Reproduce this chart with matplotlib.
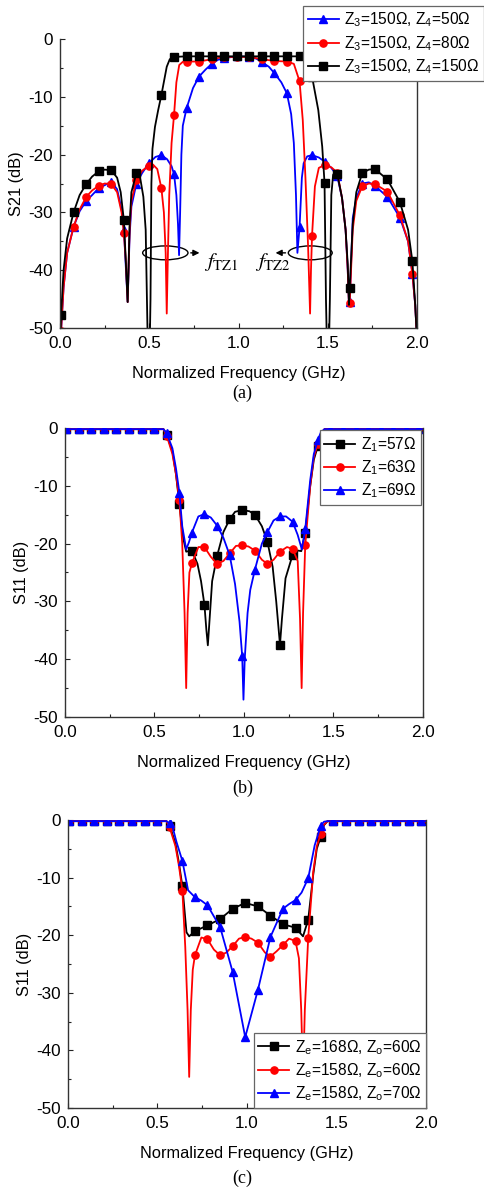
import numpy as np
import matplotlib
matplotlib.use("Agg")
import matplotlib.pyplot as plt
from matplotlib.patches import Ellipse
from matplotlib.ticker import MultipleLocator, FormatStrFormatter

plt.rcParams['font.family'] = ['Liberation Sans', 'DejaVu Sans']
plt.rcParams['mathtext.default'] = 'regular'
plt.rcParams['font.size'] = 11.8
plt.rcParams['axes.unicode_minus'] = False

# frequencies (GHz) where the simulator put its symbols, shared by every curve
mk_f = [0.006, 0.076, 0.147, 0.217, 0.287, 0.358, 0.428, 0.498, 0.568, 0.639,
        0.709, 0.779, 0.850, 0.920, 0.990, 1.061, 1.131, 1.201, 1.271, 1.342,
        1.412, 1.482, 1.553, 1.623, 1.693, 1.764, 1.834, 1.904, 1.974]

# ---- (a) S21, varying Z4 ----
a_labels = ['Z$_3$=150Ω, Z$_4$=50Ω', 'Z$_3$=150Ω, Z$_4$=80Ω', 'Z$_3$=150Ω, Z$_4$=150Ω']

a50_mk = [-50.5, -32.5, -28.0, -25.8, -24.7, -33.0, -25.0, -21.5, -20.1, -23.4,
          -12.0, -6.5, -4.3, -3.3, -3.0, -3.1, -4.0, -5.9, -9.4, -32.6,
          -20.1, -21.2, -23.7, -45.5, -25.0, -25.4, -27.3, -30.9, -40.6]
a50_xf = [0.0, 0.02, 0.04, 0.11, 0.18, 0.25, 0.32, 0.345, 0.368, 0.379,
          0.39, 0.40, 0.46, 0.535, 0.60, 0.625, 0.652, 0.661, 0.667, 0.673,
          0.680, 0.688, 0.745, 0.815, 0.885, 1.10, 1.17, 1.24, 1.295, 1.31,
          1.322, 1.330, 1.355, 1.365, 1.385, 1.45, 1.52, 1.58, 1.600, 1.612,
          1.619, 1.64, 1.66, 1.73, 1.95, 1.99, 2.0]
a50_xd = [-55, -43, -37, -29.8, -27.0, -25.3, -26.0, -29.5, -39, -45.5,
          -34, -29, -23.2, -20.4, -20.8, -22.0, -27, -32, -37.4, -30,
          -20, -15, -8.5, -5.3, -3.6, -3.4, -4.8, -7.5, -13, -18,
          -27, -37, -24, -21.5, -20.3, -20.5, -22.3, -27.5, -33, -40,
          -46, -31, -27.5, -24.8, -35, -46, -52]

a80_mk = [-50.5, -32.5, -27.3, -25.4, -25.1, -33.6, -24.4, -21.9, -25.8, -13.1,
          -3.9, -3.9, -3.5, -3.1, -3.1, -3.1, -3.5, -3.8, -3.9, -7.3,
          -34.0, -21.8, -23.1, -45.6, -25.5, -25.1, -26.4, -30.5, -40.6]
a80_xf = [0.0, 0.02, 0.04, 0.11, 0.18, 0.25, 0.32, 0.345, 0.368, 0.379,
          0.39, 0.40, 0.46, 0.52, 0.545, 0.582, 0.592, 0.598, 0.604, 0.612,
          0.625, 0.652, 0.668, 0.69, 1.31, 1.36, 1.375, 1.39, 1.401, 1.406,
          1.428, 1.45, 1.52, 1.58, 1.600, 1.612, 1.619, 1.64, 1.66, 1.73,
          1.95, 1.99, 2.0]
a80_xd = [-55, -43, -37, -29.5, -26.2, -25.0, -26.5, -30, -38, -45.5,
          -33, -28, -22.8, -21.7, -22.5, -30, -37, -47.5, -38, -27,
          -18, -7.5, -4.5, -3.9, -4.3, -14, -24, -36, -47.5, -40,
          -25.5, -22.3, -22.2, -27.5, -33, -40, -46, -33, -28, -25.0,
          -35, -46, -52]

a150_mk = [-47.8, -30.0, -25.1, -22.9, -22.7, -31.4, -23.2, -62, -9.7, -3.1,
           -3.0, -3.0, -3.0, -3.0, -3.0, -3.0, -3.0, -3.0, -3.0, -3.0,
           -6.5, -24.9, -23.3, -43.0, -23.2, -22.5, -24.3, -28.2, -38.4]
a150_xf = [0.0, 0.02, 0.04, 0.11, 0.18, 0.25, 0.32, 0.34, 0.368, 0.379,
           0.39, 0.40, 0.448, 0.467, 0.480, 0.487, 0.497, 0.507, 0.512, 0.518,
           0.532, 0.55, 0.598, 0.615, 1.38, 1.447, 1.469, 1.490, 1.501, 1.512,
           1.52, 1.53, 1.545, 1.58, 1.600, 1.612, 1.619, 1.64, 1.66, 1.73,
           1.95, 1.99, 2.0]
a150_xd = [-55, -40, -34.5, -27.0, -23.8, -22.6, -24.0, -26.5, -38, -45.5,
           -32, -26.5, -23.8, -27.3, -33, -45, -62, -45, -25, -19,
           -15.2, -12.3, -4.8, -3.5, -3.6, -12.3, -18.6, -45, -62, -45,
           -27, -23.5, -22.8, -27.5, -33, -39, -46, -32, -26.5, -22.6,
           -33, -46, -52]

# ---- (b) S11, varying Z1 ----
b_labels = ['Z$_1$=57Ω', 'Z$_1$=63Ω', 'Z$_1$=69Ω']

b57_mk = [-0.2] * 8 + [-1.2, -13.2, -21.2, -30.6, -22.1, -15.8, -14.2, -15.0, -19.7,
                       -37.5, -22.0, -18.1, -3.2] + [-0.2] * 8
b57_xf = [0.0, 0.55, 0.60, 0.62, 0.66, 0.677, 0.69, 0.74, 0.76, 0.790, 0.798, 0.808,
          0.822, 0.885, 0.95, 1.03, 1.10, 1.16, 1.18, 1.212, 1.232, 1.30, 1.32,
          1.37, 1.39, 1.43, 1.45, 2.0]
b57_xd = [-0.2, -0.2, -4.0, -8.0, -19.0, -21.4, -21.3, -23.5, -26.5, -35.0, -37.6, -33.0,
          -26.5, -18.0, -14.5, -14.4, -17.0, -24.0, -30.0, -33.0, -26.0, -21.2, -21.3,
          -10.0, -5.5, -1.2, -0.2, -0.2]

b63_mk = [-0.2] * 8 + [-1.3, -12.5, -23.4, -20.6, -23.5, -21.7, -20.3, -21.2, -23.5,
                       -21.4, -20.9, -20.3, -2.8] + [-0.2] * 8
b63_xf = [0.0, 0.55, 0.60, 0.62, 0.655, 0.668, 0.677, 0.685, 0.695, 0.745, 0.815, 0.885,
          0.955, 1.025, 1.10, 1.165, 1.24, 1.30, 1.313, 1.322, 1.33, 1.37, 1.39,
          1.43, 1.45, 2.0]
b63_xd = [-0.2, -0.2, -4.5, -8.0, -20.0, -32.0, -45.0, -32.0, -25.0, -20.6, -22.3, -23.0,
          -20.4, -20.5, -22.8, -22.8, -20.6, -23.0, -33.0, -45.0, -32.0, -10.0, -5.0,
          -1.0, -0.2, -0.2]

b69_mk = [-0.2] * 8 + [-0.9, -11.2, -18.1, -14.9, -16.9, -22.0, -39.5, -24.5, -18.0,
                       -15.3, -16.2, -17.5, -2.1] + [-0.2] * 8
b69_xf = [0.0, 0.55, 0.60, 0.62, 0.655, 0.677, 0.692, 0.745, 0.815, 0.885, 0.95, 0.975,
          0.997, 1.004, 1.02, 1.035, 1.10, 1.165, 1.235, 1.30, 1.323, 1.37, 1.39,
          1.43, 1.45, 2.0]
b69_xd = [-0.2, -0.2, -3.5, -7.0, -17.0, -21.0, -19.8, -15.3, -15.5, -19.0, -27.0, -33.5,
          -47.0, -40.0, -32.0, -28.0, -20.0, -16.0, -15.3, -18.5, -21.0, -9.0, -4.5,
          -0.7, -0.2, -0.2]

# ---- (c) S11, varying Ze / Zo ----
c_labels = ['Z$_e$=168Ω, Z$_o$=60Ω', 'Z$_e$=158Ω, Z$_o$=60Ω', 'Z$_e$=158Ω, Z$_o$=70Ω']

c168_mk = [-0.2] * 8 + [-1.0, -11.5, -19.3, -18.3, -17.2, -15.4, -14.4, -15.0, -16.6,
                        -18.1, -18.7, -17.3, -2.9] + [-0.2] * 8
c168_xf = [0.0, 0.55, 0.60, 0.62, 0.662, 0.677, 1.313, 1.37, 1.39, 1.43, 1.45, 2.0]
c168_xd = [-0.2, -0.2, -4.0, -7.5, -19.5, -20.2, -20.2, -9.5, -5.0, -0.9, -0.2, -0.2]

c158_mk = [-0.2] * 8 + [-1.3, -12.3, -23.5, -20.7, -23.5, -21.9, -20.3, -21.3, -23.7,
                        -21.7, -21.0, -20.4, -2.4] + [-0.2] * 8
c158_xf = [0.0, 0.55, 0.60, 0.62, 0.655, 0.668, 0.677, 0.686, 0.697, 0.745, 0.815, 0.885,
           0.955, 1.025, 1.10, 1.165, 1.235, 1.29, 1.303, 1.313, 1.323, 1.37, 1.39,
           1.43, 1.45, 2.0]
c158_xd = [-0.2, -0.2, -4.5, -8.0, -22.0, -33.0, -44.6, -33.0, -26.0, -20.4, -22.5, -23.0,
           -20.6, -20.6, -23.0, -22.8, -20.6, -24.0, -33.0, -45.0, -33.0, -9.0, -4.5,
           -0.8, -0.2, -0.2]

c70_mk = [-0.2] * 8 + [-0.6, -7.1, -13.4, -14.8, -18.6, -26.4, -37.7, -29.5, -20.3,
                       -15.4, -13.9, -10.1, -1.0] + [-0.2] * 8
c70_xf = [0.0, 0.55, 0.579, 0.606, 0.671, 0.745, 1.235, 1.305, 1.378, 1.43, 1.45, 2.0]
c70_xd = [-0.2, -0.2, -0.6, -3.8, -12.2, -14.0, -14.6, -12.6, -4.4, -0.3, -0.2, -0.2]


def series(mk_db, ex_f, ex_db):
    f = np.concatenate([mk_f, ex_f])
    d = np.concatenate([mk_db, ex_db])
    order = np.argsort(f, kind='stable')
    idx = np.where(order < len(mk_f))[0]
    return f[order], d[order], idx.tolist()


def draw(ax, mk_db, ex_f, ex_db, color, marker, label):
    f, d, idx = series(mk_db, ex_f, ex_db)
    ax.plot(f, d, color=color, lw=1.3, marker=marker, ms=5.2, markevery=idx,
            label=label)


def style(ax, ylabel):
    ax.set_xlim(0, 2.0)
    ax.set_ylim(-50, 0)
    ax.xaxis.set_major_locator(MultipleLocator(0.5))
    ax.xaxis.set_minor_locator(MultipleLocator(0.25))
    ax.yaxis.set_major_locator(MultipleLocator(10))
    ax.yaxis.set_minor_locator(MultipleLocator(5))
    ax.xaxis.set_major_formatter(FormatStrFormatter('%.1f'))
    ax.yaxis.set_major_formatter(FormatStrFormatter('%d'))
    ax.tick_params(which='both', direction='in', colors='#222222', labelcolor='black')
    ax.tick_params(which='major', length=3.5, width=0.8, labelsize=12.3)
    ax.tick_params(which='minor', length=2.2, width=0.8)
    ax.tick_params(axis='x', pad=6)
    ax.tick_params(axis='y', pad=5)
    ax.spines['top'].set_visible(False)
    for s in ('left', 'bottom', 'right'):
        ax.spines[s].set_linewidth(1.0)
        ax.spines[s].set_color('#333333')
    ax.set_xlabel('Normalized Frequency (GHz)')
    ax.set_ylabel(ylabel)
    ax.xaxis.set_label_coords(0.5, -0.159)
    ax.xaxis.label.set_va('center')
    ax.yaxis.set_label_coords(-0.122, 0.5)
    ax.yaxis.label.set_va('center')


def legend(ax, **kw):
    lg = ax.legend(fontsize=11.2, handlelength=2.0, handletextpad=0.35,
                   labelspacing=0.3, borderpad=0.3, fancybox=False,
                   framealpha=1, **kw)
    lg.get_frame().set_edgecolor('#666666')
    lg.get_frame().set_linewidth(0.9)
    return lg


W, H = 485, 1190
fig = plt.figure(figsize=(W / 100, H / 100), dpi=100)

ax_a = fig.add_axes([60 / W, 1 - 328 / H, 357 / W, 289 / H])
ax_b = fig.add_axes([65 / W, 1 - 717 / H, 358 / W, 289 / H])
ax_c = fig.add_axes([68 / W, 1 - 1108 / H, 358 / W, 288 / H])

# (a)
draw(ax_a, a50_mk, a50_xf, a50_xd, '#0000ff', '^', a_labels[0])
draw(ax_a, a80_mk, a80_xf, a80_xd, '#ff0000', 'o', a_labels[1])
draw(ax_a, a150_mk, a150_xf, a150_xd, '#000000', 's', a_labels[2])
style(ax_a, 'S21 (dB)')
legend(ax_a, loc='upper right', bbox_to_anchor=(1 - 1 / W, 1 - 6 / H),
       bbox_transform=fig.transFigure, borderaxespad=0)

# transmission-zero call-outs
ax_a.add_patch(Ellipse((0.590, -37.0), 0.254, 2.4, fill=False, ec='black', lw=1.0))
ax_a.add_patch(Ellipse((1.402, -37.0), 0.246, 2.4, fill=False, ec='black', lw=1.0))
ax_a.annotate('', xy=(0.797, -37.0), xytext=(0.717, -37.0),
              arrowprops=dict(arrowstyle='-|>', color='black', lw=1.0, mutation_scale=9))
ax_a.annotate('', xy=(1.192, -37.0), xytext=(1.279, -37.0),
              arrowprops=dict(arrowstyle='-|>', color='black', lw=1.0, mutation_scale=9))
ax_a.text(0.805, -38.6, r'$\mathit{f}_{\mathrm{TZ1}}$', fontsize=15,
          math_fontfamily='stix', ha='left', va='center')
ax_a.text(1.095, -38.6, r'$\mathit{f}_{\mathrm{TZ2}}$', fontsize=15,
          math_fontfamily='stix', ha='left', va='center')

# (b)
draw(ax_b, b57_mk, b57_xf, b57_xd, '#000000', 's', b_labels[0])
draw(ax_b, b63_mk, b63_xf, b63_xd, '#ff0000', 'o', b_labels[1])
draw(ax_b, b69_mk, b69_xf, b69_xd, '#0000ff', '^', b_labels[2])
style(ax_b, 'S11 (dB)')
legend(ax_b, loc='upper right', borderaxespad=0.15)

# (c)
draw(ax_c, c168_mk, c168_xf, c168_xd, '#000000', 's', c_labels[0])
draw(ax_c, c158_mk, c158_xf, c158_xd, '#ff0000', 'o', c_labels[1])
draw(ax_c, c70_mk, c70_xf, c70_xd, '#0000ff', '^', c_labels[2])
style(ax_c, 'S11 (dB)')
legend(ax_c, loc='lower right', borderaxespad=0)

for lab, y in (('(a)', 393), ('(b)', 788), ('(c)', 1178)):
    fig.text(0.5, 1 - y / H, lab, family='Liberation Serif', fontsize=13,
             ha='center', va='center')

fig.savefig('out.png', dpi=100)
